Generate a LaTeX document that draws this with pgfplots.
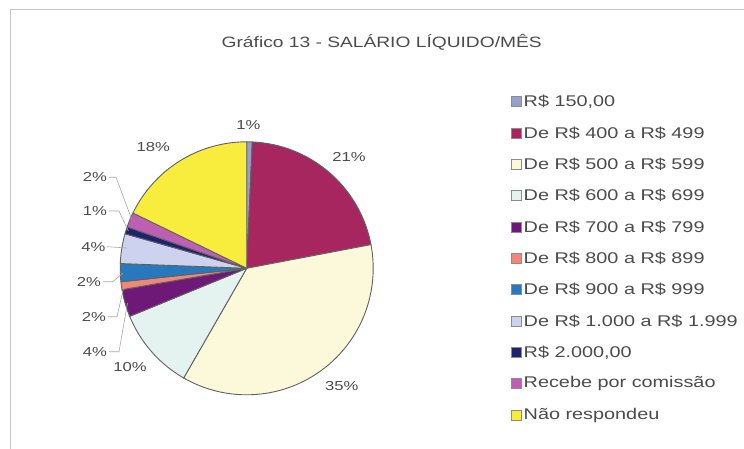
\documentclass[border=0pt]{standalone}
\usepackage{pgfplots}
\pgfplotsset{compat=1.18}
\usepackage{pgfplotstable}
\usepgfplotslibrary{polar}
\usepackage{fontspec}
\setmainfont{Liberation Sans}
\usepackage{graphicx}

\definecolor{c0}{RGB}{150,162,205}
\definecolor{c1}{RGB}{168,38,95}
\definecolor{c2}{RGB}{252,248,218}
\definecolor{c3}{RGB}{228,243,240}
\definecolor{c4}{RGB}{110,25,120}
\definecolor{c5}{RGB}{240,135,120}
\definecolor{c6}{RGB}{40,120,190}
\definecolor{c7}{RGB}{205,210,238}
\definecolor{c8}{RGB}{30,35,110}
\definecolor{c9}{RGB}{190,95,180}
\definecolor{c10}{RGB}{248,236,60}
\definecolor{txt}{RGB}{75,75,75}

\newcommand{\sx}[1]{\scalebox{1.28}[1]{#1}}

% share of each wage band (percent), clockwise from 12 o'clock
\pgfplotstableread{
v
0.7
21.3
36.3
10.5
3.5
1.0
2.3
3.8
0.9
1.9
17.8
}\datatable

\begin{document}
\begin{tikzpicture}[x=1pt,y=1pt]
\path[use as bounding box] (0,0) rectangle (744,-449);
\draw[black!22, line width=1pt] (10,-449) -- (10,-10) -- (744,-10);

% cumulative angles
\gdef\cum{0}
\pgfplotstableforeachcolumnelement{v}\of\datatable\as\val{%
  \pgfmathsetmacro\a{90-3.6*(\cum+\val)}%
  \pgfmathsetmacro\b{90-3.6*\cum}%
  \expandafter\xdef\csname sA\pgfplotstablerow\endcsname{\a}%
  \expandafter\xdef\csname sB\pgfplotstablerow\endcsname{\b}%
  \pgfmathsetmacro\cumnew{\cum+\val}%
  \xdef\cum{\cumnew}%
}

\begin{polaraxis}[
  at={(246.7pt,-268.3pt)}, anchor=origin,
  width=253pt, height=253pt, scale only axis,
  hide axis, ymin=0, ymax=1, clip=false,
]
\pgfplotsinvokeforeach{0,...,10}{%
  \edef\doslice{\noexpand\addplot[draw=black!62, line width=0.9pt, line join=round, fill=c#1, domain=\csname sA#1\endcsname:\csname sB#1\endcsname, samples=80] {1} -- (axis cs:0,0) -- cycle;}%
  \doslice
}
\end{polaraxis}

% title
\node[text=txt, font=\fontsize{15}{18}\selectfont] at (381.7,-42) {\sx{Gráfico 13 - SALÁRIO LÍQUIDO/MÊS}};

% slice labels
\begin{scope}[every node/.style={text=txt, font=\fontsize{13}{15}\selectfont}]
\node at (248.3,-125) {\sx{1\%}};
\node at (349,-156.7) {\sx{21\%}};
\node at (341.7,-386) {\sx{35\%}};
\node at (130,-366.7) {\sx{10\%}};
\node at (153.3,-146.7) {\sx{18\%}};
\node at (95,-177.3) {\sx{2\%}};
\node at (95,-211) {\sx{1\%}};
\node at (93.3,-246.7) {\sx{4\%}};
\node at (89,-281.7) {\sx{2\%}};
\node at (94,-316.7) {\sx{2\%}};
\node at (95,-351.7) {\sx{4\%}};
\end{scope}

% leader lines
\begin{scope}[black!35, line width=0.6pt]
\draw (109,-177.3) -- (116,-177.3) -- (132,-220);
\draw (109,-211) -- (119,-211) -- (128.4,-231);
\draw (107,-246.7) -- (127,-248);
\draw (103,-281.7) -- (113,-281.7) -- (123,-273);
\draw (108,-316.7) -- (117,-316.7) -- (124,-286);
\draw (109,-351.7) -- (119,-351.7) -- (127.5,-303);
\end{scope}

% legend
\def\legrow#1#2#3{%
  \pgfmathsetmacro\yy{-(101.7+31.33*#1)}%
  \draw[fill=#2, draw=black!45, line width=0.8pt] (511,\yy-5) rectangle (521,\yy+5);
  \node[anchor=west, inner sep=0pt, text=txt, font=\fontsize{15.5}{18}\selectfont] at (523.5,\yy) {\sx{#3}};
}
\legrow{0}{c0}{R\$ 150,00}
\legrow{1}{c1}{De R\$ 400 a R\$ 499}
\legrow{2}{c2}{De R\$ 500 a R\$ 599}
\legrow{3}{c3}{De R\$ 600 a R\$ 699}
\legrow{4}{c4}{De R\$ 700 a R\$ 799}
\legrow{5}{c5}{De R\$ 800 a R\$ 899}
\legrow{6}{c6}{De R\$ 900 a R\$ 999}
\legrow{7}{c7}{De R\$ 1.000 a R\$ 1.999}
\legrow{8}{c8}{R\$ 2.000,00}
\legrow{9}{c9}{Recebe por comissão}
\legrow{10}{c10}{Não respondeu}
\end{tikzpicture}
\end{document}
